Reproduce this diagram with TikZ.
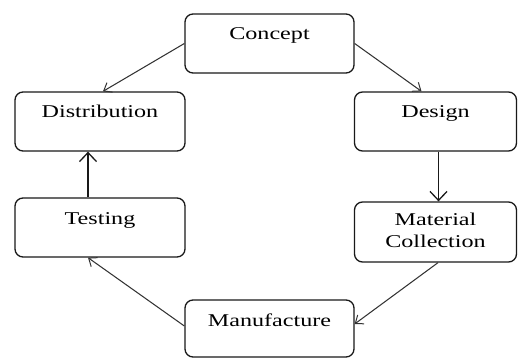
\documentclass[tikz,border=0pt]{standalone}
\usepackage{fontspec}
\setmainfont{Liberation Serif}[FakeStretch=1.34]
\usetikzlibrary{arrows.meta}
\begin{document}
\begin{tikzpicture}[x=1pt,y=-1pt,
  stagebox/.style={draw=black!90, line width=1.3pt, rounded corners=8pt, inner sep=0pt},
  thinarrow/.style={draw=black!80, line width=1.05pt, -{Straight Barb[length=7pt,width=11pt,line width=1pt]}},
  thickarrow/.style={draw=black!90, line width=1.6pt, -{Straight Barb[length=9pt,width=17pt,line width=1.3pt]}}]
\useasboundingbox (0,0) rectangle (518,358);
\newcommand{\boxtext}[4]{\parbox[c][#1pt][t]{#2pt}{\centering\fontsize{18pt}{22pt}\selectfont\rule{0pt}{#3pt}#4}}
\node[stagebox] (concept) at (269.5,43.5) {\boxtext{59}{169}{26}{Concept}};
\node[stagebox] (dist) at (100,121.5) {\boxtext{59}{170}{26}{Distribution}};
\node[stagebox] (design) at (435.5,121.5) {\boxtext{59}{162}{26}{Design}};
\node[stagebox] (testing) at (100,227.5) {\boxtext{59}{170}{26}{Testing}};
\node[stagebox] (material) at (435.5,232) {\boxtext{60}{162}{23}{Material\\Collection}};
\node[stagebox] (manuf) at (269.5,328.5) {\boxtext{57}{169}{26}{Manufacture}};
\draw[thinarrow] (concept.west) -- ([xshift=3pt]dist.north);
\draw[thinarrow] (concept.east) -- ([xshift=-14pt]design.north);
\draw[thickarrow] ([xshift=3pt]design.south) -- ([xshift=3pt]material.north);
\draw[thinarrow] ([xshift=2.5pt]material.south) -- ([yshift=4.5pt]manuf.east);
\draw[thinarrow] ([yshift=2.5pt]manuf.west) -- ([xshift=-12pt]testing.south);
\draw[thickarrow] ([xshift=-12pt]testing.north) -- ([xshift=-12pt]dist.south);
\end{tikzpicture}
\end{document}
